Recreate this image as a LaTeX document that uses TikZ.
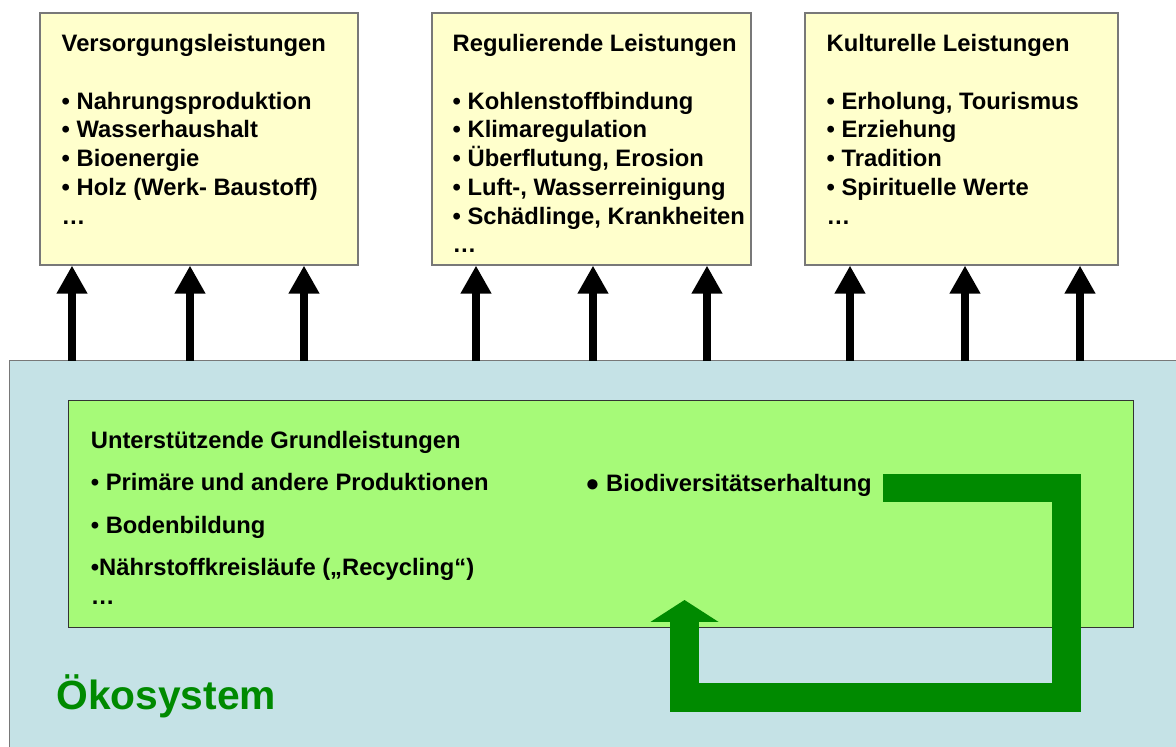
\documentclass[tikz,border=0pt]{standalone}
\usepackage{fontspec}
\setmainfont{Liberation Sans}
\usetikzlibrary{arrows.meta,fit}

\definecolor{svcyellow}{HTML}{FFFFCC}
\definecolor{ecoblue}{HTML}{C5E2E6}
\definecolor{basegreen}{HTML}{A6FA78}
\definecolor{ecogreen}{RGB}{0,138,0}
\definecolor{edgegray}{RGB}{120,120,120}

\tikzset{
  svcbox/.style={draw=edgegray, line width=0.8pt, fill=svcyellow, inner sep=0pt},
  svctext/.style={anchor=north west, inner sep=0pt, align=left,
    font=\fontsize{16.9pt}{20.4pt}\selectfont\bfseries},
  uparrow/.style={line width=6pt, -{Triangle[width=20.6pt,length=19.9pt]}},
  looparrow/.style={draw=ecogreen, line width=20.6pt, line join=miter,
    -{Triangle[width=47.7pt,length=15.6pt]}}
}

\begin{document}
\begin{tikzpicture}[x=0.025cm, y=-0.025cm]
\useasboundingbox (0,0) rectangle (1176,747);

% Ecosystem
\node[fill=ecoblue, inner sep=0pt, fit={(10,361) (1176,747)}] (eco) {};
\draw[edgegray, line width=0.8pt] (eco.south west) |- (eco.north east);
\node[anchor=base west, inner sep=0pt, text=ecogreen,
  font=\fontsize{29pt}{34pt}\selectfont\bfseries] (ecolabel) at (56,709) {Ökosystem};

% Supporting services
\node[draw=black!80, line width=0.6pt, fill=basegreen, inner sep=0pt,
  fit={(68,400) (1133,627)}] (base) {};
\node[svctext] (basetxt) at ([shift={(23,31)}]base.north west)
  {Unterstützende Grundleistungen\\[9.8pt]
   • Primäre und andere Produktionen\\[9.8pt]
   • Bodenbildung\\[9.8pt]
   •Nährstoffkreisläufe („Recycling“)\\
   …};
\node[svctext, anchor=base west] (biodiv) at (585,491) {● Biodiversitätserhaltung};

% Service boxes
\node[svcbox, fit={(40,13) (358,265)}] (prov) {};
\node[svcbox, fit={(432,13) (751,265)}] (regu) {};
\node[svcbox, fit={(805,13) (1118,265)}] (cult) {};

\node[svctext] (provtxt) at ([shift={(22,22)}]prov.north west)
  {Versorgungsleistungen\\[20.4pt]
   • Nahrungsproduktion\\
   • Wasserhaushalt\\
   • Bioenergie\\
   • Holz (Werk- Baustoff)\\
   …};
\node[svctext] (regutxt) at ([shift={(21,22)}]regu.north west)
  {Regulierende Leistungen\\[20.4pt]
   • Kohlenstoffbindung\\
   • Klimaregulation\\
   • Überflutung, Erosion\\
   • Luft-, Wasserreinigung\\
   • Schädlinge, Krankheiten\\
   …};
\node[svctext] (culttxt) at ([shift={(22,22)}]cult.north west)
  {Kulturelle Leistungen\\[20.4pt]
   • Erholung, Tourismus\\
   • Erziehung\\
   • Tradition\\
   • Spirituelle Werte\\
   …};

% Arrows up to the services
\foreach \x in {72,190,304}
  \draw[uparrow] (\x,0 |- eco.north) -- (\x,0 |- prov.south);
\foreach \x in {476,593,707}
  \draw[uparrow] (\x,0 |- eco.north) -- (\x,0 |- regu.south);
\foreach \x in {850,965,1080}
  \draw[uparrow] (\x,0 |- eco.north) -- (\x,0 |- cult.south);

% Biodiversity loop
\coordinate (loopstart) at (883,488);
\coordinate (loopcorner) at (1066.5,697.5);
\coordinate (looptip) at (684.5,600);
\draw[looparrow] (loopstart) -| (loopcorner) -| (looptip);
\end{tikzpicture}
\end{document}
